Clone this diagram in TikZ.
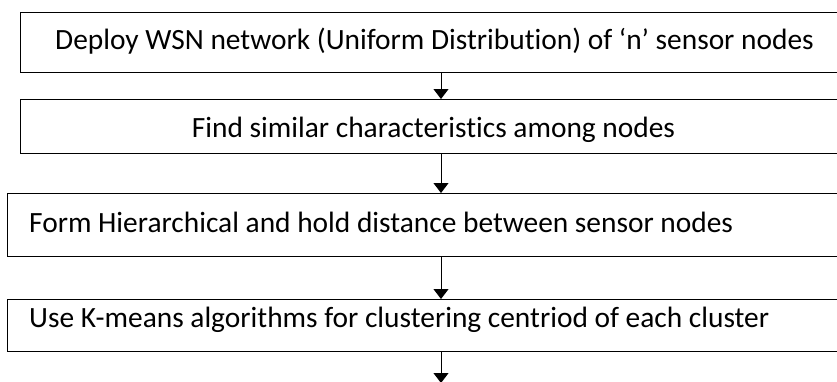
\documentclass[tikz,border=0pt]{standalone}
\usepackage{fontspec}
\setmainfont[Ligatures=NoCommon]{Carlito}
\usetikzlibrary{arrows.meta}
\begin{document}
\begin{tikzpicture}[x=1pt,y=-1pt,
  box/.style={draw, line width=1.1pt, anchor=north west, inner sep=0pt},
  txt/.style={inner sep=0pt, font=\fontsize{29.4}{34}\selectfont},
  arr/.style={line width=1pt, -{Triangle[width=15pt,length=10pt]}}]
\useasboundingbox (0,0) rectangle (837,381);
\node[box, minimum width=830pt, minimum height=60pt] (b1) at (20,12) {};
\node[box, minimum width=830pt, minimum height=54pt] (b2) at (20,99) {};
\node[box, minimum width=840pt, minimum height=63pt] (b3) at (7,193) {};
\node[box, minimum width=840pt, minimum height=52pt] (b4) at (7,299) {};
\node[txt, anchor=base] (t1) at (434.5,49) {Deploy WSN network (Uniform Distribution) of ‘n’ sensor nodes};
\node[txt, anchor=base] (t2) at (433.5,137) {Find similar characteristics among nodes};
\node[txt, anchor=base west] (t3) at (29,232) {Form Hierarchical and hold distance between sensor nodes};
\begin{scope}
  \clip (0,299) rectangle (837,332);
  \node[txt, anchor=base west] (t4) at (29,327) {Use K-means algorithms for clustering centriod of each cluster};
\end{scope}
\coordinate (ax) at (441,0);
\coordinate (end) at (441,383);
\draw[arr] (b1.south -| ax) -- (b2.north -| ax);
\draw[arr] (b2.south -| ax) -- (b3.north -| ax);
\draw[arr] (b3.south -| ax) -- (b4.north -| ax);
\draw[arr] (b4.south -| ax) -- (end);
\end{tikzpicture}
\end{document}
